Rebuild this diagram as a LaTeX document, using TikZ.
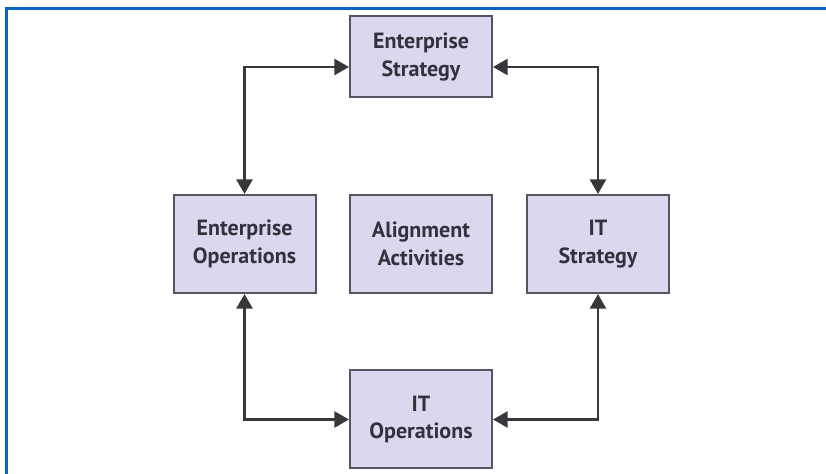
\documentclass[tikz,border=0pt]{standalone}
\usepackage{fontspec}
\setmainfont{PT Sans}
\usepackage{tikz}
\usetikzlibrary{arrows.meta}
\definecolor{frameblue}{RGB}{10,100,200}
\definecolor{boxfill}{RGB}{218,216,238}
\definecolor{boxline}{RGB}{85,85,100}
\definecolor{linkgray}{RGB}{55,55,60}
\definecolor{txtgray}{RGB}{50,50,62}
\tikzset{
  block/.style={draw=boxline, fill=boxfill, line width=1.5pt, minimum width=106.5pt,
    minimum height=73.5pt, inner sep=0pt, align=center, text=txtgray,
    font=\fontsize{16.5}{20.5}\selectfont\bfseries},
  link/.style={draw=linkgray, line width=2pt,
    {Triangle[length=11pt,width=12pt]}-{Triangle[length=11pt,width=12pt]}}
}

\begin{document}
\begin{tikzpicture}[x=0.75pt, y=-0.75pt]
        \useasboundingbox (0,0) rectangle (826,474);
        \draw[frameblue, line width=2.25pt] (6,474) -- (6,9) -- (826,9);

        \node[block, minimum height=60.75pt] (es) at (421,57) {Enterprise\\Strategy};
        \node[block] (eo) at (244.5,244) {Enterprise\\Operations};
        \node[block] (aa) at (421,244) {Alignment\\Activities};
        \node[block] (its) at (598,244) {IT\\Strategy};
        \node[block] (ito) at (421,419.5) {IT\\Operations};

        \draw[link] (eo.north) |- ([yshift=-7.5pt]es.west);
        \draw[link] ([yshift=-7.5pt]es.east) -| (its.north);
        \draw[link] (eo.south) |- (ito.west);
        \draw[link] (ito.east) -| (its.south);
    \end{tikzpicture}
\end{document}
